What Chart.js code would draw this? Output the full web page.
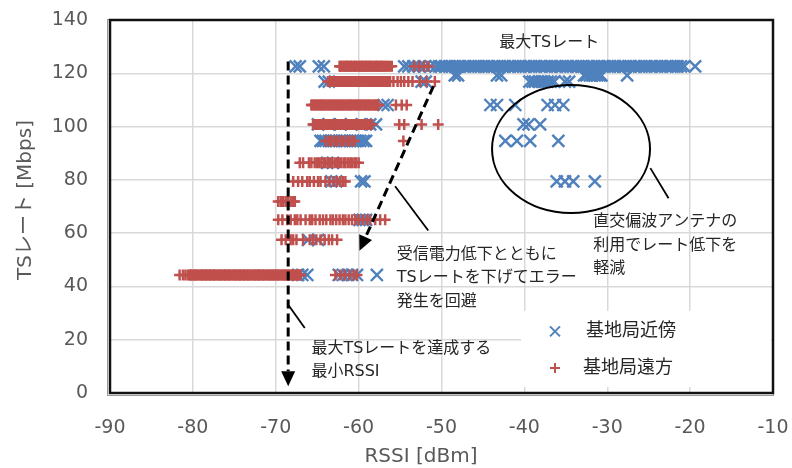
<!DOCTYPE html>
<html>
<head>
<meta charset="utf-8">
<script src="https://cdn.jsdelivr.net/npm/chart.js@4.4.1/dist/chart.umd.min.js"></script>
<style>
  html, body { margin: 0; padding: 0; background: #ffffff; }
  #wrap { width: 792px; height: 468px; }
</style>
</head>
<body>
<div id="wrap"><canvas id="chart" width="792" height="468"></canvas></div>
<script>
// ---- Axis ticks ----
const xTicks = [-90, -80, -70, -60, -50, -40, -30, -20, -10];
const yTicks = [0, 20, 40, 60, 80, 100, 120, 140];

// ---- 基地局近傍 : RSSI [dBm] measured at each TS rate ----
const near122 = [-67.6, -67.1, -64.8, -64.2, -54.5, -54.0, -53.4, -52.7, -52.0, -51.3, -50.7,
  -50.3, -50.0, -49.6, -49.4, -49.0, -48.7, -48.4, -48.0, -47.8, -47.4, -47.1, -46.8, -46.5, -46.1,
  -45.9, -45.5, -45.2, -44.9, -44.5, -44.3, -43.9, -43.6, -43.3, -43.0, -42.6, -42.4, -42.0, -41.7,
  -41.4, -41.1, -40.7, -40.5, -40.1, -39.8, -39.5, -39.2, -38.8, -38.6, -38.2, -37.9, -37.6, -37.3,
  -36.9, -36.7, -36.3, -36.0, -35.7, -35.4, -35.0, -34.8, -34.4, -34.1, -33.8, -33.5, -33.1, -32.9,
  -32.5, -32.2, -31.9, -31.6, -31.2, -31.0, -30.6, -30.3, -30.0, -29.7, -29.3, -29.1, -28.7, -28.4,
  -28.1, -27.8, -27.4, -27.2, -26.8, -26.5, -26.2, -25.9, -25.5, -25.3, -24.9, -24.6, -24.3, -24.0,
  -23.6, -23.4, -23.0, -22.7, -22.4, -22.1, -21.7, -21.5, -21.1, -20.7, -19.4];
const near119 = [-48.4, -48.0, -43.3, -42.8, -32.8, -32.5, -32.1, -31.8, -31.5, -31.2, -30.9, -30.7, -27.6];
const near117 = [-64.1, -63.6, -52.4, -51.9, -39.4, -39.0, -38.7, -38.3, -37.9, -37.6, -37.2, -36.8,
  -36.4, -35.1, -34.6];
const near108 = [-57.0, -56.5, -44.1, -43.3, -41.1, -37.2, -36.3, -35.3];
const near101 = [-64.9, -63.6, -62.2, -60.9, -59.6, -58.6, -57.9, -40.1, -39.5, -38.1];
const near95 = [-64.6, -64.3, -64.0, -63.6, -63.3, -63.0, -62.7, -62.3, -62.0, -61.7, -61.4, -61.0,
  -60.7, -60.4, -60.1, -59.8, -59.4, -59.1, -42.3, -40.9, -39.3, -35.9];
const near86 = [-63.8, -63.1];
const near79 = [-63.3, -62.7, -59.7, -59.3, -36.1, -35.1, -34.1, -31.5];
const near65 = [-59.9, -59.5, -59.1];
const near57 = [-66.1, -64.9];
const near44 = [-67.3, -66.8, -66.2, -62.4, -61.9, -61.3, -60.8, -60.2, -57.8];

// ---- 基地局遠方 : RSSI [dBm] measured at each TS rate ----
const far122 = [-62.3, -62.2, -62.1, -61.9, -61.8, -61.6, -61.5, -61.4, -61.3, -61.1, -61.0, -60.9,
  -60.8, -60.6, -60.5, -60.4, -60.3, -60.1, -60.0, -59.8, -59.7, -59.6, -59.5, -59.3, -59.2, -59.1,
  -59.0, -58.8, -58.7, -58.6, -58.5, -58.3, -58.2, -58.0, -57.9, -57.8, -57.7, -57.5, -57.4, -57.3,
  -57.2, -57.0, -56.9, -56.7, -56.6, -56.4, -56.2, -56.0, -53.3, -52.7, -52.1, -51.6];
const far117 = [-63.7, -63.5, -63.4, -63.2, -63.1, -62.9, -62.8, -62.7, -62.5, -62.4, -62.3, -62.2,
  -62.0, -61.9, -61.7, -61.6, -61.5, -61.4, -61.2, -61.1, -60.9, -60.8, -60.7, -60.6, -60.4, -60.3,
  -60.1, -60.0, -59.9, -59.8, -59.6, -59.5, -59.3, -59.2, -59.1, -59.0, -58.8, -58.7, -58.5, -58.4,
  -58.3, -58.2, -58.0, -57.9, -57.7, -57.6, -57.5, -57.3, -57.2, -57.0, -56.9, -56.8, -56.6, -56.4,
  -56.2, -55.8, -55.3, -54.9, -54.5, -54.0, -53.5, -52.6, -51.8, -50.8];
const far108 = [-65.7, -65.6, -65.4, -65.3, -65.2, -65.0, -64.9, -64.7, -64.6, -64.5, -64.3, -64.2,
  -64.1, -63.9, -63.8, -63.6, -63.5, -63.4, -63.2, -63.1, -63.0, -62.8, -62.7, -62.5, -62.4, -62.3,
  -62.1, -62.0, -61.9, -61.7, -61.6, -61.4, -61.3, -61.2, -61.0, -60.9, -60.8, -60.6, -60.5, -60.3,
  -60.2, -60.1, -59.9, -59.8, -59.7, -59.5, -59.4, -59.2, -59.1, -59.0, -58.8, -58.7, -58.6, -58.4,
  -58.3, -58.1, -58.0, -57.9, -57.7, -57.6, -55.5, -54.8, -54.2];
const far101 = [-65.5, -65.4, -65.2, -65.1, -65.0, -64.8, -64.7, -64.5, -64.4, -64.3, -64.1, -64.0,
  -63.9, -63.7, -63.6, -63.4, -63.3, -63.2, -63.0, -62.9, -62.8, -62.6, -62.5, -62.3, -62.2, -62.1,
  -61.9, -61.8, -61.7, -61.5, -61.4, -61.2, -61.1, -61.0, -60.8, -60.7, -60.6, -60.4, -60.3, -60.1,
  -60.0, -59.9, -59.7, -59.6, -59.5, -59.3, -59.2, -59.0, -58.9, -58.8, -58.6, -58.5, -58.4,
  -55.1, -54.5, -52.4, -50.4];
const far95 = [-64.0, -63.6, -63.3, -62.9, -62.6, -62.2, -61.9, -61.5, -61.2, -60.8, -60.5, -54.6];
const far86 = [-67.1, -66.7, -66.0, -65.7, -65.3, -65.0, -64.8, -64.5, -64.2, -64.0, -63.7, -63.4,
  -63.2, -62.9, -62.6, -62.4, -62.1, -61.8, -61.6, -61.3, -61.0, -60.8, -60.5, -60.3, -60.0];
const far79 = [-67.9, -67.3, -66.8, -66.2, -65.9, -65.4, -64.9, -64.6, -64.0, -63.5, -63.0, -62.6,
  -62.2, -61.9, -61.6];
const far72 = [-69.7, -69.4, -69.1, -68.8, -68.5, -68.2, -67.9, -67.7];
const far65 = [-69.7, -69.2, -68.6, -68.2, -67.7, -67.4, -67.0, -66.4, -65.9, -65.6, -65.2, -64.7,
  -64.3, -63.9, -63.4, -63.1, -62.7, -62.3, -61.9, -61.6, -61.2, -60.8, -60.4, -60.0, -59.5, -59.0,
  -58.6, -58.0, -57.4, -56.8];
const far57 = [-69.3, -68.8, -68.2, -67.9, -67.5, -66.7, -65.9, -65.5, -65.1, -64.6, -64.1, -63.6,
  -63.2, -62.6];
const far44 = [-81.6, -81.2, -80.9, -80.6, -80.4, -80.3, -80.2, -80.1, -79.9, -79.8, -79.7, -79.6,
  -79.4, -79.3, -79.1, -79.0, -78.9, -78.8, -78.6, -78.5, -78.4, -78.3, -78.1, -78.0, -77.9, -77.8,
  -77.6, -77.5, -77.4, -77.3, -77.1, -77.0, -76.8, -76.7, -76.6, -76.5, -76.3, -76.2, -76.1, -76.0,
  -75.8, -75.7, -75.6, -75.5, -75.3, -75.2, -75.0, -74.9, -74.8, -74.7, -74.5, -74.4, -74.3, -74.2,
  -74.0, -73.9, -73.8, -73.7, -73.5, -73.4, -73.3, -73.2, -73.0, -72.9, -72.7, -72.6, -72.5, -72.4,
  -72.2, -72.1, -72.0, -71.9, -71.7, -71.6, -71.5, -71.4, -71.2, -71.1, -70.9, -70.8, -70.7, -70.6,
  -70.4, -70.3, -70.2, -70.1, -69.9, -69.8, -69.7, -69.6, -69.4, -69.3, -69.1, -69.0, -68.9, -68.8,
  -68.6, -68.5, -68.4, -68.3, -68.1, -68.0, -67.9, -67.8, -67.6, -67.5, -67.3, -67.2, -67.1, -67.0,
  -62.8, -62.2, -61.7, -61.1, -60.6, -60.2];

// Pair each RSSI list with its TS rate [Mbps]
const nearRows = [[122.6, near122], [119.2, near119], [116.9, near117], [108.1, near108],
  [100.8, near101], [94.6, near95], [86.4, near86], [79.4, near79], [65.0, near65],
  [57.5, near57], [44.3, near44]];
const farRows = [[122.6, far122], [116.9, far117], [108.1, far108], [100.8, far101], [94.6, far95],
  [86.4, far86], [79.4, far79], [71.9, far72], [65.0, far65], [57.5, far57], [44.3, far44]];

function toPoints(rows) {
  const pts = [];
  rows.forEach(([rate, list]) => list.forEach(r => pts.push({ x: r, y: rate })));
  return pts;
}

const BLUE = '#4F81BD';
const RED = '#C0504D';
const FONT = '"DejaVu Sans", "Noto Sans CJK JP", sans-serif';
const TEXT = '#262626';
const AXIS_TEXT = '#595959';

// ---- Annotation anchors in data units ----
const minRssiArrow = { x: -68.5, from: 124.4, to: 2.5 };
const slopeArrow = { x1: -50.97, y1: 115.2, x2: -59.9, y2: 53.4 };
const slopeCallout = { x1: -55.6, y1: 77.6, x2: -51.6, y2: 61.0 };
const minRssiCallout = { x1: -68.5, y1: 33.1, x2: -66.5, y2: 24.4 };
const polEllipse = { cx: -34.37, cy: 91.6, rx: 9.53, ry: 24.0 };
const polCallout = { x1: -24.8, y1: 84.4, x2: -22.6, y2: 73.1 };

const noteMaxRate = { x: -37.0, y: 131.4, lines: ['最大TSレート'] };
const noteSlope = { x: -55.4, y: 51.9, lines: ['受信電力低下とともに', 'TSレートを下げてエラー', '発生を回避'] };
const notePol = { x: -31.7, y: 64.1, lines: ['直交偏波アンテナの', '利用でレート低下を', '軽減'] };
const noteMinRssi = { x: -65.7, y: 16.6, lines: ['最大TSレートを達成する', '最小RSSI'] };

function arrow(ctx, x1, y1, x2, y2) {
  const dx = x2 - x1, dy = y2 - y1;
  const len = Math.hypot(dx, dy);
  const ux = dx / len, uy = dy / len;
  const head = 15, half = 7;
  const bx = x2 - ux * head, by = y2 - uy * head;
  ctx.beginPath();
  ctx.setLineDash([9, 5]);
  ctx.moveTo(x1, y1);
  ctx.lineTo(bx, by);
  ctx.stroke();
  ctx.setLineDash([]);
  ctx.beginPath();
  ctx.moveTo(x2, y2);
  ctx.lineTo(bx - uy * half, by + ux * half);
  ctx.lineTo(bx + uy * half, by - ux * half);
  ctx.closePath();
  ctx.fill();
}

const annotations = {
  id: 'annotations',
  afterDatasetsDraw(chart) {
    const { ctx, chartArea: a, scales: { x, y } } = chart;
    const px = v => x.getPixelForValue(v);
    const py = v => y.getPixelForValue(v);
    ctx.save();

    // legend background box
    ctx.fillStyle = '#ffffff';
    ctx.fillRect(a.right - 252, a.bottom - 82, 250, 76);

    // dashed arrows
    ctx.strokeStyle = '#000000';
    ctx.fillStyle = '#000000';
    ctx.lineWidth = 3;
    arrow(ctx, px(minRssiArrow.x), py(minRssiArrow.from), px(minRssiArrow.x), py(minRssiArrow.to));
    arrow(ctx, px(slopeArrow.x1), py(slopeArrow.y1), px(slopeArrow.x2), py(slopeArrow.y2));

    // callout lines
    ctx.lineWidth = 1.8;
    [slopeCallout, minRssiCallout, polCallout].forEach(c => {
      ctx.beginPath();
      ctx.moveTo(px(c.x1), py(c.y1));
      ctx.lineTo(px(c.x2), py(c.y2));
      ctx.stroke();
    });

    // ellipse around the orthogonal-polarisation points
    const ecx = px(polEllipse.cx), ecy = py(polEllipse.cy);
    const erx = Math.abs(px(polEllipse.cx + polEllipse.rx) - ecx);
    const ery = Math.abs(py(polEllipse.cy + polEllipse.ry) - ecy);
    ctx.lineWidth = 2;
    ctx.beginPath();
    ctx.ellipse(ecx, ecy, erx, ery, 0, 0, Math.PI * 2);
    ctx.stroke();

    // notes
    ctx.fillStyle = TEXT;
    ctx.font = '16px ' + FONT;
    ctx.textBaseline = 'middle';
    ctx.textAlign = 'center';
    ctx.fillText(noteMaxRate.lines[0], px(noteMaxRate.x), py(noteMaxRate.y));
    ctx.textAlign = 'left';
    [noteSlope, notePol, noteMinRssi].forEach(n => {
      n.lines.forEach((t, i) => ctx.fillText(t, px(n.x), py(n.y) + i * 23.5));
    });

    // legend
    const lx = a.right - 218;
    const ly1 = a.bottom - 61.6, ly2 = a.bottom - 25;
    ctx.lineWidth = 2;
    ctx.strokeStyle = BLUE;
    ctx.beginPath();
    ctx.moveTo(lx - 5, ly1 - 5); ctx.lineTo(lx + 5, ly1 + 5);
    ctx.moveTo(lx + 5, ly1 - 5); ctx.lineTo(lx - 5, ly1 + 5);
    ctx.stroke();
    ctx.strokeStyle = RED;
    ctx.beginPath();
    ctx.moveTo(lx - 5, ly2); ctx.lineTo(lx + 5, ly2);
    ctx.moveTo(lx, ly2 - 5); ctx.lineTo(lx, ly2 + 5);
    ctx.stroke();
    ctx.fillStyle = TEXT;
    ctx.font = '18px ' + FONT;
    ctx.fillText('基地局近傍', a.right - 187, ly1);
    ctx.fillText('基地局遠方', a.right - 190, ly2);

    // plot area frame
    ctx.strokeStyle = '#9a9a9a';
    ctx.lineWidth = 1;
    ctx.strokeRect(a.left - 2.5, a.top - 0.5, a.right - a.left + 3, a.bottom - a.top + 3);
    ctx.strokeStyle = '#111111';
    ctx.lineWidth = 2.5;
    ctx.strokeRect(a.left, a.top, a.right - a.left, a.bottom - a.top);

    // axis titles
    ctx.fillStyle = AXIS_TEXT;
    ctx.font = '20px ' + FONT;
    ctx.textAlign = 'center';
    ctx.fillText('RSSI [dBm]', a.left + 311, 457);
    ctx.translate(26, 200);
    ctx.rotate(-Math.PI / 2);
    ctx.fillText('TSレート [Mbps]', 0, 0);
    ctx.restore();
  }
};

new Chart(document.getElementById('chart'), {
  type: 'scatter',
  data: {
    datasets: [
      {
        label: '基地局近傍',
        data: toPoints(nearRows),
        pointStyle: 'crossRot',
        pointRadius: 8.5,
        pointBorderWidth: 2.4,
        borderColor: BLUE,
        backgroundColor: BLUE,
        order: 2
      },
      {
        label: '基地局遠方',
        data: toPoints(farRows),
        pointStyle: 'cross',
        pointRadius: 5.5,
        pointBorderWidth: 2.5,
        borderColor: RED,
        backgroundColor: RED,
        order: 1
      }
    ]
  },
  options: {
    responsive: false,
    animation: false,
    devicePixelRatio: 1,
    layout: { padding: { top: 20, right: 19, left: 0, bottom: 0 } },
    plugins: { legend: { display: false }, tooltip: { enabled: false } },
    elements: { point: { hoverRadius: 8.5 } },
    scales: {
      x: {
        type: 'linear',
        min: xTicks[0],
        max: xTicks[xTicks.length - 1],
        afterFit: s => { s.height = 75; },
        afterBuildTicks: s => { s.ticks = xTicks.map(v => ({ value: v })); },
        grid: { color: '#d9d9d9', lineWidth: 1.5, drawTicks: true, tickLength: 24, tickColor: 'rgba(0,0,0,0)' },
        border: { display: false },
        ticks: { color: AXIS_TEXT, font: { family: FONT, size: 19 }, padding: 0 }
      },
      y: {
        type: 'linear',
        min: yTicks[0],
        max: yTicks[yTicks.length - 1],
        afterFit: s => { s.width = 110; },
        afterBuildTicks: s => { s.ticks = yTicks.map(v => ({ value: v })); },
        grid: { color: '#d9d9d9', lineWidth: 1.5, drawTicks: true, tickLength: 22, tickColor: 'rgba(0,0,0,0)' },
        border: { display: false },
        ticks: { color: AXIS_TEXT, font: { family: FONT, size: 19 }, padding: 0 }
      }
    }
  },
  plugins: [annotations]
});
</script>
</body>
</html>
